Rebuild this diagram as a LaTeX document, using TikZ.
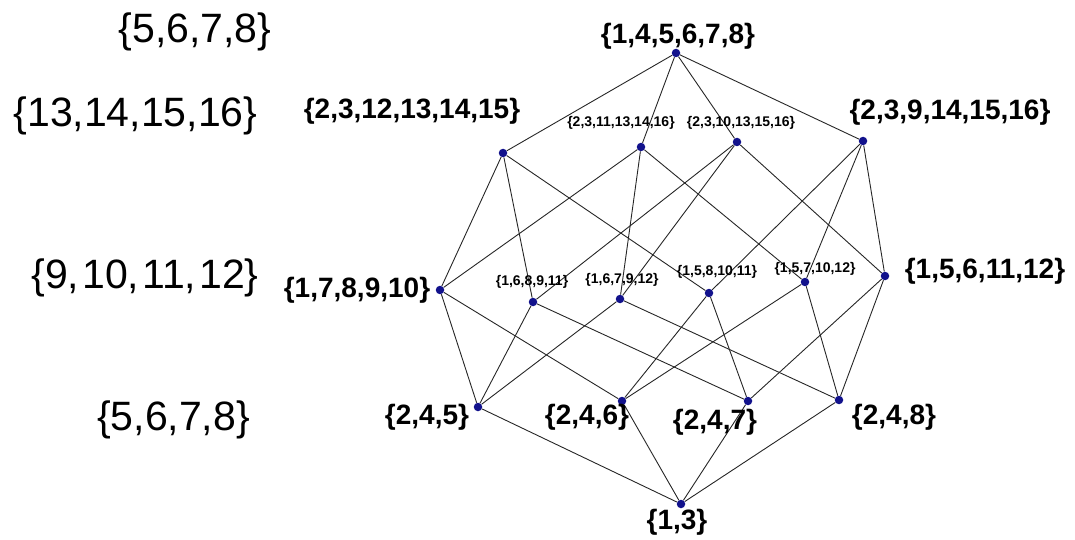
\documentclass[tikz,border=0pt]{standalone}
\usepackage{fontspec}
\setmainfont{Liberation Sans}
\usetikzlibrary{backgrounds}
\definecolor{dotblue}{RGB}{18,18,140}
\begin{document}
\begin{tikzpicture}[x=1pt,y=-1pt,
  vtx/.style={circle,fill=dotblue,inner sep=0pt,minimum size=8.5pt},
  edge/.style={draw=black!85,line width=0.9pt},
  bigtxt/.style={font=\fontsize{41}{41}\selectfont,inner sep=0pt},
  midtxt/.style={font=\bfseries\fontsize{28}{28}\selectfont,inner sep=0pt},
  smalltxt/.style={font=\bfseries\fontsize{14}{14}\selectfont,inner sep=0pt}]
\useasboundingbox (0,0) rectangle (1075,540);

% side column
\node[bigtxt] (s1) at (195,32) {\{5,6,7,8\}};
\node[bigtxt] (s2) at (135.5,116) {\{13,14,15,16\}};
\node[bigtxt] (s3) at (145,278) {\{9,\kern3pt10,\kern3pt11,\kern3pt12\}};
\node[bigtxt] (s4) at (173.5,420) {\{5,6,7,8\}};

% vertices
\node[vtx] (T)  at (676,53) {};
\node[vtx] (A1) at (503,153) {};
\node[vtx] (A2) at (641,147) {};
\node[vtx] (A3) at (737,142) {};
\node[vtx] (A4) at (863,141) {};
\node[vtx] (B1) at (440,290) {};
\node[vtx] (B2) at (533,302) {};
\node[vtx] (B3) at (620,299) {};
\node[vtx] (B4) at (709,293) {};
\node[vtx] (B5) at (805,282) {};
\node[vtx] (B6) at (885,276) {};
\node[vtx] (C1) at (478,407) {};
\node[vtx] (C2) at (622,401) {};
\node[vtx] (C3) at (748,401) {};
\node[vtx] (C4) at (839,400) {};
\node[vtx] (D)  at (681,504) {};

% vertex labels
\node[midtxt] (tT)  at (678,36)  {\{1,4,5,6,7,8\}};
\node[midtxt] (tA1) at (412,111) {\{2,3,12,13,14,15\}};
\node[smalltxt] (tA2) at (621,123) {\{2,3,11,13,14,16\}};
\node[smalltxt] (tA3) at (741,123) {\{2,3,10,13,15,16\}};
\node[midtxt] (tA4) at (950,112) {\{2,3,9,14,15,16\}};
\node[midtxt] (tB1) at (357,290) {\{1,7,8,9,10\}};
\node[smalltxt] (tB2) at (532,282) {\{1,6,8,9,11\}};
\node[smalltxt] (tB3) at (622,280) {\{1,6,7,9,12\}};
\node[smalltxt] (tB4) at (717,272) {\{1,5,8,10,11\}};
\node[smalltxt] (tB5) at (815,269) {\{1,5,7,10,12\}};
\node[midtxt] (tB6) at (985,271) {\{1,5,6,11,12\}};
\node[midtxt] (tC1) at (427,417) {\{2,4,5\}};
\node[midtxt] (tC2) at (587,417) {\{2,4,6\}};
\node[midtxt] (tC3) at (715,422) {\{2,4,7\}};
\node[midtxt] (tC4) at (894,417) {\{2,4,8\}};
\node[midtxt] (tD)  at (677,522) {\{1,3\}};

% edges
\begin{pgfonlayer}{background}
\foreach \a in {A1,A2,A3,A4} \draw[edge] (T) -- (\a);
\foreach \c in {C1,C2,C3,C4} \draw[edge] (D) -- (\c);
\foreach \a/\b in {A1/B1,A1/B2,A1/B4,A2/B1,A2/B3,A2/B5,A3/B2,A3/B3,A3/B6,A4/B4,A4/B5,A4/B6}
  \draw[edge] (\a) -- (\b);
\foreach \b/\c in {B1/C1,B1/C2,B2/C1,B2/C3,B3/C1,B3/C4,B4/C2,B4/C3,B5/C2,B5/C4,B6/C3,B6/C4}
  \draw[edge] (\b) -- (\c);
\end{pgfonlayer}
\end{tikzpicture}
\end{document}
